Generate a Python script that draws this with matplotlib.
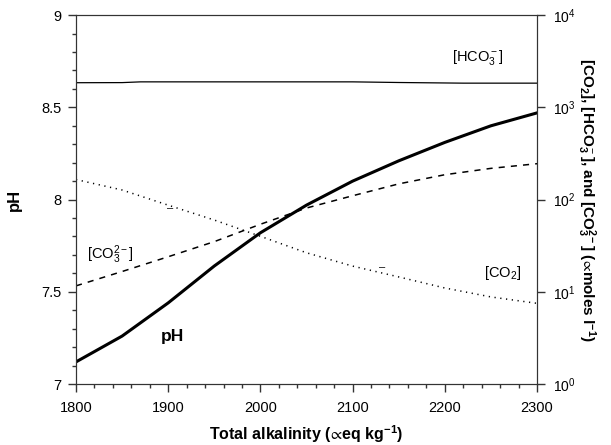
import numpy as np
import matplotlib
matplotlib.use("Agg")
import matplotlib.pyplot as plt
from matplotlib.ticker import MultipleLocator, FixedLocator, NullLocator

plt.rcParams['font.family'] = ['Liberation Sans', 'DejaVu Sans']
plt.rcParams['mathtext.fontset'] = 'custom'
plt.rcParams['mathtext.rm'] = 'Liberation Sans'
plt.rcParams['mathtext.it'] = 'Liberation Sans'
plt.rcParams['mathtext.bf'] = 'Liberation Sans:bold'
plt.rcParams['mathtext.fallback'] = 'stixsans'

# values
alk = [1800, 1850, 1900, 1950, 2000, 2050, 2100, 2150, 2200, 2250, 2300]
ph = [7.12, 7.26, 7.44, 7.64, 7.82, 7.97, 8.10, 8.21, 8.31, 8.40, 8.47]
co3 = [11.6, 16.6, 24, 35, 54, 81, 110, 148, 186, 218, 245]
co2 = [165, 127, 87, 60, 40, 26.5, 19, 14.5, 11, 8.8, 7.5]
hco3_x = [1800, 1850, 1870, 2100, 2150, 2220, 2300]
hco3 = [1850, 1855, 1890, 1890, 1860, 1830, 1830]

fig = plt.figure(figsize=(6.11, 4.45), dpi=100)
ax = fig.add_axes([0.1244, 0.137, 0.7545, 0.829])
ax2 = ax.twinx()

ax.plot(alk, ph, color='black', lw=2.2, zorder=5)
ax2.plot(hco3_x, hco3, color='black', lw=0.9)
ax2.plot(alk, co3, color='black', lw=1.1, linestyle=(0, (4, 4)))
ax2.plot(alk, co2, color='black', lw=1.1, linestyle=(0, (0.8, 3)))

ax.set_xlim(1800, 2300)
ax.set_ylim(7, 9)
ax2.set_yscale('log')
ax2.set_ylim(1, 1e4)

ax.xaxis.set_major_locator(MultipleLocator(100))
ax.xaxis.set_minor_locator(MultipleLocator(20))
ax.yaxis.set_major_locator(MultipleLocator(0.5))
ax.yaxis.set_minor_locator(MultipleLocator(0.1))
ax.yaxis.set_major_formatter(plt.FormatStrFormatter('%g'))
ax2.yaxis.set_major_locator(FixedLocator([1, 10, 100, 1000, 10000]))
ax2.yaxis.set_minor_locator(NullLocator())
ax2.set_yticklabels(['$10^{0}$', '$10^{1}$', '$10^{2}$', '$10^{3}$', '$10^{4}$'])

for a in (ax, ax2):
    a.tick_params(which='major', direction='out', length=5.5, width=1, color='#333333')
    a.tick_params(which='minor', direction='out', length=2.8, width=1, color='#333333')
    for s in a.spines.values():
        s.set_color('#333333')
ax.tick_params(axis='x', labelsize=10.5, pad=7)
ax.tick_params(axis='y', labelsize=10.5, pad=5)
ax2.tick_params(axis='y', labelsize=10, pad=6)

ax.set_xlabel('Total alkalinity ($\\!\\propto\\!$eq kg$^{\\mathbf{-1}}$)', fontsize=11.5, fontweight='bold', labelpad=6)
ax.set_ylabel('pH', fontsize=12, fontweight='bold', labelpad=14)
ax2.set_ylabel('[CO$_\\mathbf{2}$], [HCO$_\\mathbf{3}^-$], and [CO$_\\mathbf{3}^{\\mathbf{2-}}$] ($\\!\\propto\\!$moles l$^{\\mathbf{-1}}$)',
               fontsize=11, fontweight='bold', rotation=-90, labelpad=16)

ax.text(2236, 8.77, '[HCO$_3^-$]', fontsize=10.5, ha='center', va='center')
ax.text(1837, 7.70, '[CO$_3^{2-}$]', fontsize=10.5, ha='center', va='center')
ax.text(2263, 7.60, '[CO$_2$]', fontsize=10.5, ha='center', va='center')
ax.text(1905, 7.26, 'pH', fontsize=12.5, fontweight='bold', ha='center', va='center')
ax.text(1902, 7.954, '–', fontsize=8, ha='center', va='center')
ax.text(2132, 7.634, '–', fontsize=8, ha='center', va='center')

fig.savefig('out.png', dpi=100)
